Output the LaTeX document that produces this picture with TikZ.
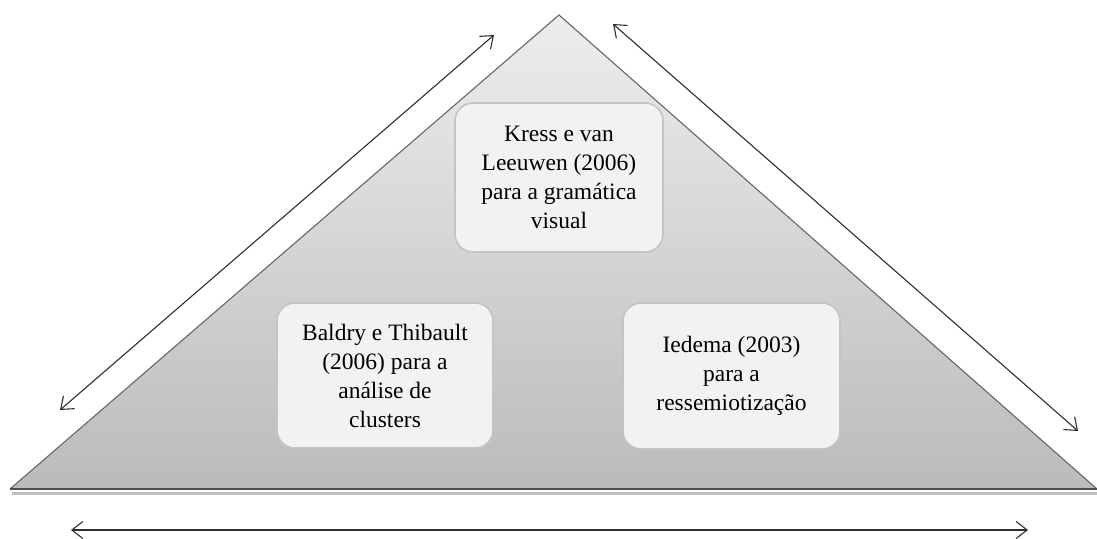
\documentclass[tikz,border=0pt]{standalone}
\usepackage{fontspec}
\setmainfont{Liberation Serif}
\usetikzlibrary{arrows.meta}
\definecolor{edge}{HTML}{666666}
\definecolor{toptone}{HTML}{EDEDED}
\definecolor{basetone}{HTML}{BBBBBB}
\definecolor{boxfill}{HTML}{F2F2F2}
\definecolor{boxline}{HTML}{C4C4C4}
\definecolor{arrowc}{HTML}{2E2E2E}
\tikzset{
  card/.style={draw=boxline, line width=1.6pt, fill=boxfill, rounded corners=18pt,
    align=center, font=\fontsize{23.5}{29}\selectfont, inner sep=0pt},
  twoway/.style={draw=arrowc, line width=1.1pt,
    {Straight Barb[length=11pt,width=17pt,line width=1.1pt]}-{Straight Barb[length=11pt,width=17pt,line width=1.1pt]}}
}
\begin{document}
\begin{tikzpicture}[x=1pt,y=-1pt]
  \useasboundingbox (0,0) rectangle (1097,538);
  % soft shadow under the pyramid
  \fill[black!25] (12,492) -- (1097,492) -- (1097,495) -- (12,495) -- cycle;
  % the pyramid
  \shade[top color=toptone, bottom color=basetone] (10,489) -- (559,15) -- (1097,489) -- cycle;
  \draw[edge, line width=1.1pt] (10,489) -- (559,15) -- (1097,489);
  \draw[edge!75!black, line width=2pt] (10,489) -- (1097,489);

  % the three cards
  \node[card, minimum width=208pt, minimum height=149pt] (kress) at (559,177.5)
    {Kress e van\\Leeuwen (2006)\\para a gramática\\visual};
  \node[card, minimum width=216pt, minimum height=145pt] (baldry) at (385,375.5)
    {Baldry e Thibault\\(2006) para a\\análise de\\clusters};
  \node[card, minimum width=217pt, minimum height=146pt] (iedema) at (731.5,376)
    {Iedema (2003)\\para a\\ressemiotização};

  % double-headed arrows along the sides and the base
  \coordinate (lb) at (60,410);
  \coordinate (lt) at (494,35);
  \coordinate (rt) at (613,24);
  \coordinate (rb) at (1078,431);
  \coordinate (bl) at (71,530);
  \coordinate (br) at (1028,530);
  \draw[twoway] (lb) -- (lt);
  \draw[twoway] (rt) -- (rb);
  \draw[twoway] (bl) -- (br);
\end{tikzpicture}
\end{document}
